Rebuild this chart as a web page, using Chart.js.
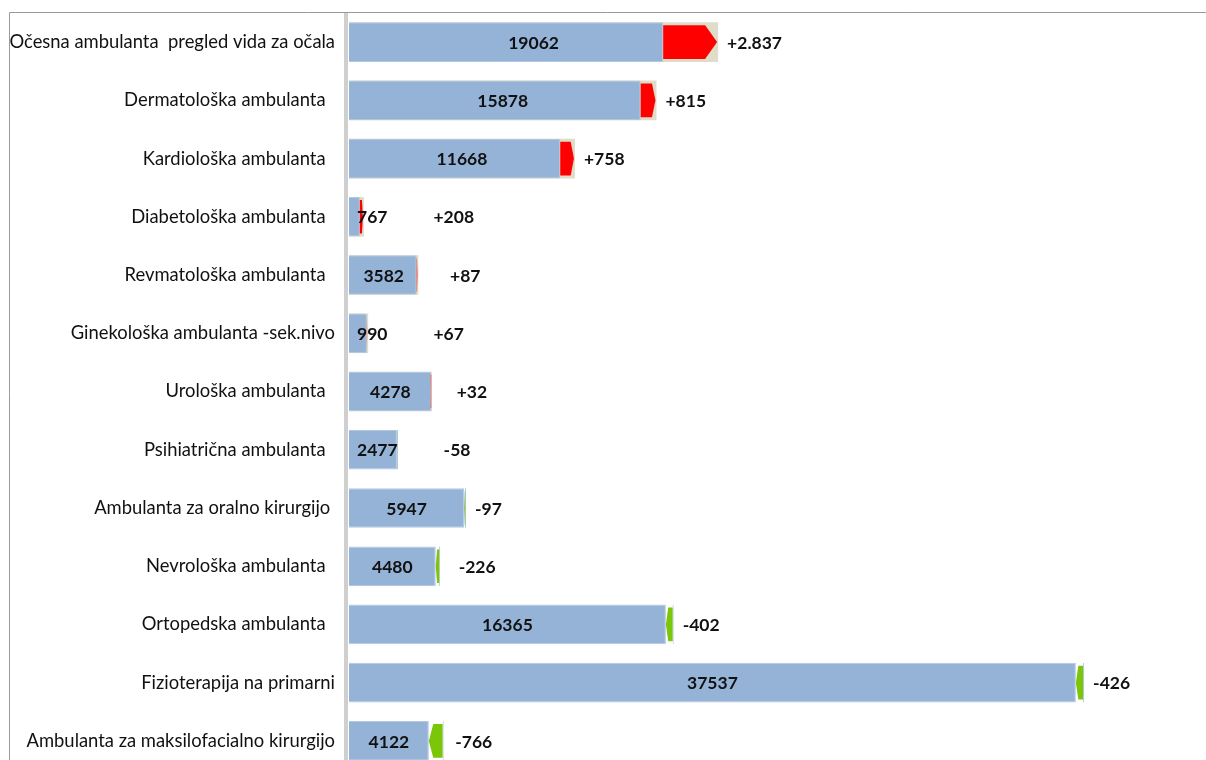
<!DOCTYPE html>
<html>
<head>
<meta charset="utf-8">
<script src="https://cdn.jsdelivr.net/npm/chart.js@4.4.1/dist/chart.umd.min.js"></script>
<style>
  html, body { margin: 0; padding: 0; background: #fff; overflow: hidden; }
  #wrap { position: relative; width: 1206px; height: 775px; }
</style>
</head>
<body>
<div id="wrap"><canvas id="changeChart"></canvas></div>
<script>
// categories (trailing spaces as in the source sheet)
const categories = [
    "Očesna ambulanta  pregled vida za očala",
    "Dermatološka ambulanta  ",
    "Kardiološka ambulanta  ",
    "Diabetološka ambulanta  ",
    "Revmatološka ambulanta  ",
    "Ginekološka ambulanta -sek.nivo",
    "Urološka ambulanta  ",
    "Psihiatrična ambulanta  ",
    "Ambulanta za oralno kirurgijo ",
    "Nevrološka ambulanta  ",
    "Ortopedska ambulanta  ",
    "Fizioterapija na primarni",
    "Ambulanta za maksilofacialno kirurgijo"
];
const values  = [19062, 15878, 11668, 767, 3582, 990, 4278, 2477, 5947, 4480, 16365, 37537, 4122];
const changes = [2837, 815, 758, 208, 87, 67, 32, -58, -97, -226, -402, -426, -766];
const xMax = 44000;

const previous = values.map((v, i) => v - changes[i]);
const lowPart  = values.map((v, i) => Math.min(v, previous[i]));
const highPart = values.map((v, i) => Math.max(v, previous[i]));
const changeRange = lowPart.map((v, i) => [v, highPart[i]]);

const BLUE = "#95B3D7";
const BEIGE = "#DFDCC9";
const RED = "#FF0000";
const GREEN = "#7CC60A";
const LABEL_FONT = "bold 17.5px Lato";

function fmtChange(d) {
    const s = String(Math.abs(d)).replace(/\B(?=(\d{3})+(?!\d))/g, ".");
    return (d > 0 ? "+" : "-") + s;
}

const changePlugin = {
    id: "changeMarks",
    beforeDraw(chart) {
        const ctx = chart.ctx;
        const area = chart.chartArea;
        ctx.save();
        // chart frame
        ctx.strokeStyle = "#9A9A9A";
        ctx.lineWidth = 1;
        ctx.beginPath();
        ctx.moveTo(9.5, chart.height);
        ctx.lineTo(9.5, 12.5);
        ctx.lineTo(chart.width, 12.5);
        ctx.stroke();
        // value axis line
        ctx.fillStyle = "#CFCFCF";
        ctx.fillRect(area.left - 5, 13, 4, chart.height);
        ctx.restore();
    },
    afterDatasetsDraw(chart) {
        const ctx = chart.ctx;
        const meta = chart.getDatasetMeta(2);
        const left = chart.chartArea.left;
        ctx.save();
        meta.data.forEach((el, i) => {
            const p = el.getProps(["x", "y", "base", "height"], true);
            const x0 = Math.min(p.x, p.base), x1 = Math.max(p.x, p.base);
            const w = x1 - x0;
            const top = p.y - p.height / 2 + 3, bot = p.y + p.height / 2 - 3;
            ctx.beginPath();
            if (changes[i] > 0) {
                const tip = Math.min(12, w * 0.22);
                ctx.moveTo(x0, top);
                ctx.lineTo(x1 - 1 - tip, top);
                ctx.lineTo(x1 - 1, p.y);
                ctx.lineTo(x1 - 1 - tip, bot);
                ctx.lineTo(x0, bot);
                ctx.fillStyle = RED;
            } else {
                const tip = w * 0.3;
                ctx.moveTo(x1 - 1, top);
                ctx.lineTo(x0 + tip, top);
                ctx.lineTo(x0, p.y);
                ctx.lineTo(x0 + tip, bot);
                ctx.lineTo(x1 - 1, bot);
                ctx.fillStyle = GREEN;
            }
            ctx.closePath();
            ctx.fill();
        });

        // labels
        ctx.font = LABEL_FONT;
        ctx.fillStyle = "#111";
        ctx.textBaseline = "middle";
        ctx.textAlign = "left";
        meta.data.forEach((el, i) => {
            const p = el.getProps(["x", "y", "base"], true);
            const curX = chart.scales.x.getPixelForValue(values[i]);
            const txt = String(values[i]);
            const tw = ctx.measureText(txt).width;
            let lx = (left + curX) / 2 - tw / 2;
            if (lx < left + 8) lx = left + 8;
            ctx.fillText(txt, lx, p.y + 1);
            const endX = Math.max(p.x, p.base);
            const dx = Math.max(endX + 9, lx + tw + 46);
            ctx.fillText(fmtChange(changes[i]), dx, p.y + 1);
        });
        ctx.restore();
    }
};

new Chart(
    document.getElementById("changeChart"),
    {
        type: "bar",
        data: {
            labels: categories,
            datasets: [
                {
                    label: "Skupaj",
                    data: highPart,
                    backgroundColor: changes.map(d => d > 0 ? BEIGE : "#FFFFFF"),
                    borderColor: "#A7C0DF",
                    borderWidth: changes.map(d => d > 0 ? 0 : { left: 0, top: 0, bottom: 0, right: 1 }),
                    borderSkipped: false,
                    order: 3
                },
                {
                    label: "Osnova",
                    data: lowPart,
                    backgroundColor: BLUE,
                    borderColor: "#B3C8E3",
                    borderWidth: { left: 0, top: 1, bottom: 1, right: 1 },
                    borderSkipped: false,
                    order: 2
                },
                {
                    label: "Sprememba",
                    data: changeRange,
                    backgroundColor: "rgba(0,0,0,0)",
                    order: 1
                }
            ]
        },
        options: {
            indexAxis: "y",
            responsive: true,
            maintainAspectRatio: false,
            animation: false,
            datasets: {
                bar: {
                    grouped: false,
                    barPercentage: 0.68,
                    categoryPercentage: 1
                }
            },
            layout: {
                padding: { left: 0, right: 5, top: 13, bottom: 5 }
            },
            plugins: {
                legend: { display: false },
                tooltip: { enabled: false }
            },
            scales: {
                x: {
                    display: false,
                    min: 0,
                    max: xMax
                },
                y: {
                    grid: { display: false, drawTicks: false },
                    border: { display: false },
                    afterFit(scale) {
                        scale.width = 349;
                        scale.paddingTop = 0;
                        scale.paddingBottom = 0;
                    },
                    ticks: {
                        padding: 14,
                        color: "#111",
                        font: { family: "Lato", size: 18.4 }
                    }
                }
            }
        },
        plugins: [changePlugin]
    }
);
</script>
</body>
</html>
